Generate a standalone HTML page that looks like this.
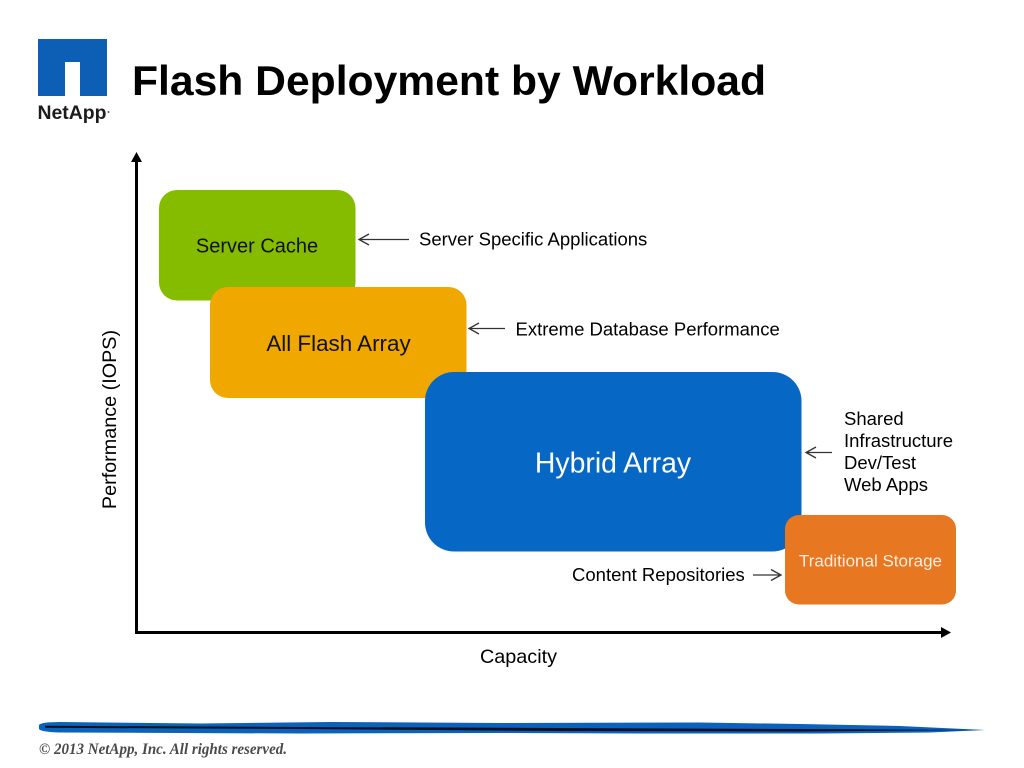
<!DOCTYPE html>
<html>
<head>
<meta charset="utf-8">
<style>
html,body{margin:0;padding:0;background:#fff;width:1024px;height:768px;overflow:hidden}
svg{display:block}
text{font-family:"Liberation Sans",sans-serif}
</style>
</head>
<body>
<svg width="1024" height="768" viewBox="0 0 1024 768" xmlns="http://www.w3.org/2000/svg">
<!-- logo -->
<path d="M38 39H107V96H80V62H65V96H38Z" fill="#0c5fb5"/>
<text x="37.500" y="119" font-size="19" font-weight="700" fill="#1c1c1c" textLength="69" lengthAdjust="spacingAndGlyphs">NetApp</text>
<circle cx="108.500" cy="112" r="1" fill="#555"/>
<!-- title -->
<text x="132" y="95" font-size="42" font-weight="700" fill="#000" textLength="634" lengthAdjust="spacingAndGlyphs">Flash Deployment by Workload</text>

<!-- axes -->
<path d="M136.500 160V632.500H943" fill="none" stroke="#000" stroke-width="3"/>
<path d="M136.500 152L142 162H131Z" fill="#000"/>
<path d="M951 632.500L941 627V638Z" fill="#000"/>

<!-- boxes -->
<rect x="159" y="190" width="196.500" height="110.500" rx="18" fill="#85bc00"/>
<rect x="210" y="287" width="256.500" height="111" rx="18" fill="#f0a800"/>
<rect x="425" y="372" width="376.500" height="179.500" rx="29" fill="#0767c5"/>
<rect x="785" y="515" width="171" height="89.500" rx="14" fill="#e87722"/>

<!-- box labels -->
<text x="257" y="252.500" font-size="20" text-anchor="middle" fill="#111">Server Cache</text>
<text x="338.500" y="351" font-size="22.400" text-anchor="middle" fill="#111">All Flash Array</text>
<text x="613" y="472.500" font-size="28.400" text-anchor="middle" fill="#fff">Hybrid Array</text>
<text x="870.500" y="566.500" font-size="17" text-anchor="middle" fill="#fdeedd">Traditional Storage</text>

<!-- annotation arrows -->
<g fill="none" stroke="#333" stroke-width="1.300">
<path d="M359 239.500H409M369 234L359 239.500L369 245"/>
<path d="M469 328.500H505M479 323L469 328.500L479 334"/>
<path d="M806 452.500H832M816 447L806 452.500L816 458"/>
<path d="M753 575H781M771 569.500L781 575L771 580.500"/>
</g>

<!-- annotation labels -->
<g font-size="18.500" fill="#000">
<text x="419" y="245.500">Server Specific Applications</text>
<text x="515.500" y="335.500">Extreme Database Performance</text>
<text x="844" y="425">Shared</text>
<text x="844" y="447">Infrastructure</text>
<text x="844" y="469">Dev/Test</text>
<text x="844" y="491">Web Apps</text>
<text x="572" y="581">Content Repositories</text>
</g>

<!-- axis labels -->
<text x="518.500" y="663" font-size="19.800" text-anchor="middle" fill="#000">Capacity</text>
<text transform="translate(116 419.500) rotate(-90)" font-size="19.800" text-anchor="middle" fill="#000">Performance (IOPS)</text>

<!-- footer rule -->
<path d="M39 725Q41 722 60 722L200 723.500L330 722L500 723L700 722.500L800 724L900 726L985 730L930 732.500L820 733.500L650 733.500L500 733L300 733.500L60 732.500Q41 732 39 729Z" fill="#0b62bd"/>
<path d="M45 725.800L300 727L560 728L800 729L985 730L800 731.500L560 731L300 729L45 727.800Z" fill="#06111f"/>
<text x="39" y="754" font-size="15.500" font-style="italic" font-weight="700" fill="#4a4a4a" style="font-family:'Liberation Serif',serif" textLength="248" lengthAdjust="spacingAndGlyphs">© 2013 NetApp, Inc. All rights reserved.</text>
</svg>
</body>
</html>
